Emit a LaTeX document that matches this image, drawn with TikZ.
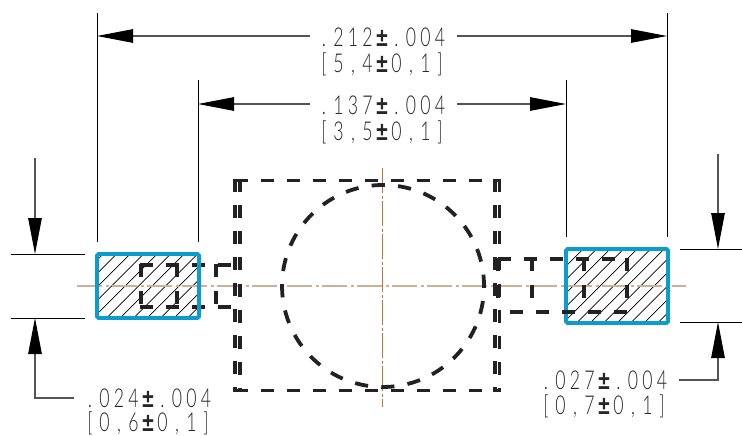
\documentclass[tikz,border=0pt]{standalone}
\usepackage{fontspec}
\usetikzlibrary{arrows.meta}
\setmainfont{Lato Light}[FakeStretch=0.68]
\newfontfamily\pmfont{Liberation Sans Bold}[FakeStretch=0.8]
\newcommand\dimcell[1]{\makebox[14.5pt][c]{#1}}
\def\dimchars#1{\ifx#1\relax\else\dimcell{#1}\expandafter\dimchars\fi}
\newcommand\pmm{{\pmfont ±}}
\definecolor{cadblue}{HTML}{0A9BCF}
\definecolor{centertan}{HTML}{CDB096}
\definecolor{centerbrown}{HTML}{B77A35}
\definecolor{dashink}{HTML}{222226}
\definecolor{leaderink}{HTML}{555555}
\tikzset{
  dimtext/.style={inner sep=0pt,font=\fontsize{26}{26}\selectfont,text=black!85},
  thinline/.style={draw=black,line width=1pt},
  hatchline/.style={draw=black,line width=0.75pt},
  leader/.style={draw=leaderink,line width=1.1pt},
  dimarrow/.style={leader,-{Stealth[length=36pt,width=13.5pt,inset=0pt,color=black]}},
  padbox/.style={draw=cadblue,line width=3.6pt,rounded corners=1.5pt},
  hidden/.style={draw=dashink,line width=3.8pt,dash pattern=on 13pt off 13pt},
  centerh/.style={draw=centertan,line width=1.6pt,dash pattern=on 25pt off 3.5pt on 3pt off 3.5pt},
  centerv/.style={draw=centerbrown,line width=1.1pt,dash pattern=on 25pt off 2.5pt on 3pt off 2.5pt}
}
\begin{document}
\begin{tikzpicture}[x=1pt,y=-1pt]
\useasboundingbox (0,0) rectangle (742,436);
% hatching
\begin{scope}
\clip (97,254) rectangle (199,318);
\foreach \k in {-3,...,12} \draw[hatchline] ({370.7+\k*13.5-354},354) -- ++(200,-200);
\end{scope}
\begin{scope}
\clip (566,249) rectangle (668,323);
\foreach \k in {-4,...,12} \draw[hatchline] ({845.7+\k*13.5-349},349) -- ++(200,-200);
\end{scope}
% centre lines
\coordinate (chl) at (77,286); \coordinate (chr) at (686,286);
\coordinate (cvt) at (382.5,168); \coordinate (cvb) at (382.5,407);
\draw[centerh] (chl) -- (chr);
\draw[centerv] (cvt) -- (cvb);
% hidden body: square and circle
\coordinate (sqtl) at (235,180.5); \coordinate (sqtr) at (499,180.5);
\coordinate (sqbl) at (235,390.5); \coordinate (sqbr) at (499,390.5);
\draw[hidden] (sqtl) -- (sqtr);
\draw[hidden] (sqbl) -- (sqbr);
\draw[hidden] (235.3,179) -- (235.3,392);
\draw[hidden,dash pattern=on 13pt off 13.15pt] (240,179) -- (240,392);
\draw[hidden] (495,179) -- (495,392);
\draw[hidden,dash pattern=on 13pt off 13.15pt] (499.5,179) -- (499.5,392);
\draw[hidden,dash pattern=on 13.2pt off 13.24pt] (384.8,185) arc[start angle=-89,end angle=-449,radius=101];
% left hidden lead
\draw[hidden] (140,265) -- (235,265);
\draw[hidden] (140,307) -- (235,307);
\foreach \x in {141,177,216} \draw[hidden,dash pattern=on 13pt off 14pt] (\x,264) -- (\x,306);
% pads
\draw[padbox] (97,254) rectangle (199,318);
\draw[padbox] (566,249) rectangle (668,323);
% right hidden lead
\draw[hidden] (498,259) -- (628,259);
\draw[hidden] (510,312) -- (630,312);
\foreach \x in {498,532,584,627} \draw[hidden,dash pattern=on 13pt off 14pt] (\x,258) -- (\x,299);
% extension lines
\coordinate (e1t) at (97.5,13);  \coordinate (e1b) at (97.5,242);
\coordinate (e2t) at (198.5,80); \coordinate (e2b) at (198.5,242);
\coordinate (e3t) at (566.5,80); \coordinate (e3b) at (566.5,237);
\coordinate (e4t) at (667.5,13); \coordinate (e4b) at (667.5,237);
\draw[thinline] (e1t) -- (e1b);
\draw[thinline] (e2t) -- (e2b);
\draw[thinline] (e3t) -- (e3b);
\draw[thinline] (e4t) -- (e4b);
\coordinate (h1l) at (11,254);  \coordinate (h1r) at (85,254);
\coordinate (h2l) at (11,318);  \coordinate (h2r) at (85,318);
\coordinate (h3l) at (680,249); \coordinate (h3r) at (742,249);
\coordinate (h4l) at (680,322); \coordinate (h4r) at (742,322);
\draw[thinline] (h1l) -- (h1r);
\draw[thinline] (h2l) -- (h2r);
\draw[thinline] (h3l) -- (h3r);
\draw[thinline] (h4l) -- (h4r);
% texts
\node[dimtext] (t212) at (382,37) {\dimchars.212\pmm.004\relax};
\node[dimtext] (t54)  at (382,64) {\dimchars[5,4\pmm0,1]\relax};
\node[dimtext] (t137) at (382,105) {\dimchars.137\pmm.004\relax};
\node[dimtext] (t35)  at (382,132) {\dimchars[3,5\pmm0,1]\relax};
\node[dimtext] (t024) at (148,398) {\dimchars.024\pmm.004\relax};
\node[dimtext] (t06)  at (148,423) {\dimchars[0,6\pmm0,1]\relax};
\node[dimtext] (t027) at (604,380) {\dimchars.027\pmm.004\relax};
\node[dimtext] (t07)  at (604,406) {\dimchars[0,7\pmm0,1]\relax};
% dimension arrows
\coordinate (a1l) at (97,36);   \coordinate (a1ls) at (310,36);
\coordinate (a1r) at (667,36);  \coordinate (a1rs) at (457,36);
\coordinate (a2l) at (198,104); \coordinate (a2ls) at (310,104);
\coordinate (a2r) at (566,104); \coordinate (a2rs) at (457,104);
\draw[dimarrow] (a1ls) -- (a1l);
\draw[dimarrow] (a1rs) -- (a1r);
\draw[dimarrow] (a2ls) -- (a2l);
\draw[dimarrow] (a2rs) -- (a2r);
\coordinate (v1t) at (35,158);  \coordinate (v1h) at (35,254);
\coordinate (v2k) at (35,398);  \coordinate (v2h) at (35,318); \coordinate (v2e) at (74,398);
\coordinate (v3t) at (718,154); \coordinate (v3h) at (718,249);
\coordinate (v4k) at (718,380); \coordinate (v4h) at (718,322); \coordinate (v4e) at (679,380);
\draw[dimarrow] (v1t) -- (v1h);
\draw[dimarrow] (v2e) -- (v2k) -- (v2h);
\draw[dimarrow] (v3t) -- (v3h);
\draw[dimarrow] (v4e) -- (v4k) -- (v4h);
\end{tikzpicture}
\end{document}
